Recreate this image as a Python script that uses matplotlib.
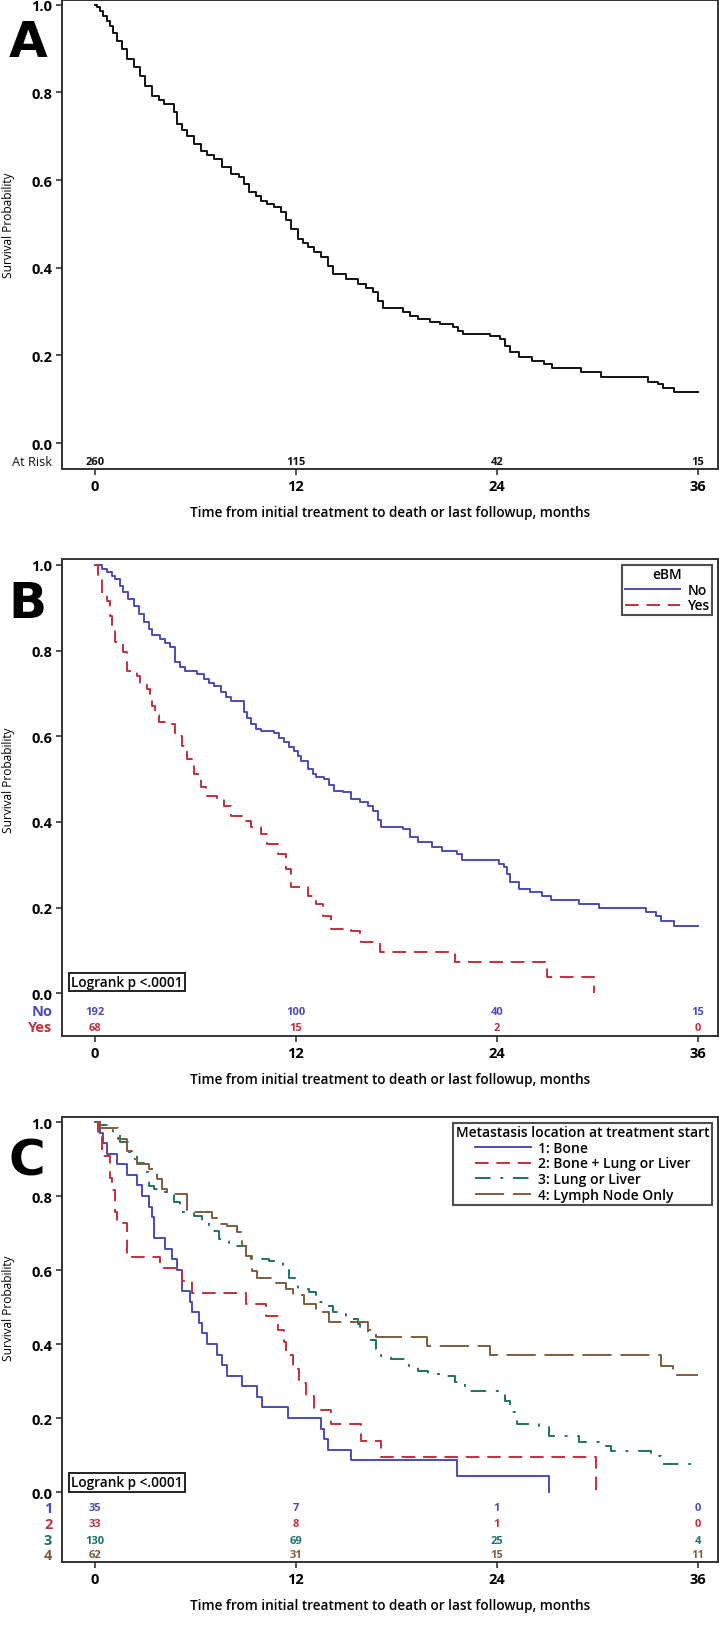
import matplotlib
matplotlib.use("Agg")
import matplotlib.pyplot as plt
import matplotlib.transforms as mtransforms

plt.rcParams['font.family'] = ['Open Sans', 'DejaVu Sans']

# ---- data ----
month_ticks = [0, 12, 24, 36]
surv_ticks = [0.0, 0.2, 0.4, 0.6, 0.8, 1.0]

# Panel A: all patients
a_time = [0, 0.1, 0.3, 0.5, 0.7, 0.9, 1.1, 1.3, 1.6, 1.9, 2.3, 2.7, 3.0, 3.4, 3.8, 4.1, 4.7,
          4.9, 5.2, 5.5, 5.9, 6.3, 6.7, 7.1, 7.6, 8.1, 8.6, 8.9, 9.2, 9.6, 9.9, 10.3, 10.7,
          11.1, 11.4, 11.7, 12.1, 12.4, 12.7, 13.1, 13.5, 13.9, 14.2, 15.0, 15.7, 16.2,
          16.6, 16.9, 17.2, 18.4, 18.8, 19.3, 20.0, 20.6, 21.4, 21.7, 22.0, 23.6, 24.2,
          24.5, 24.8, 25.3, 26.1, 26.8, 27.3, 29.0, 30.2, 33.0, 33.6, 33.9, 34.6, 36.0]
a_surv = [1.0, 0.996, 0.985, 0.975, 0.963, 0.952, 0.935, 0.918, 0.898, 0.877, 0.857, 0.838,
          0.815, 0.792, 0.783, 0.774, 0.756, 0.728, 0.714, 0.700, 0.683, 0.667, 0.657, 0.648,
          0.631, 0.614, 0.607, 0.590, 0.573, 0.563, 0.553, 0.546, 0.539, 0.527, 0.508, 0.489,
          0.466, 0.457, 0.447, 0.436, 0.425, 0.405, 0.386, 0.375, 0.363, 0.355, 0.345, 0.325,
          0.308, 0.300, 0.290, 0.283, 0.276, 0.272, 0.265, 0.256, 0.249, 0.244, 0.237, 0.222,
          0.208, 0.196, 0.187, 0.180, 0.171, 0.162, 0.150, 0.140, 0.135, 0.125, 0.117, 0.117]
a_risk = [260, 115, 42, 15]

# Panel B: eBM No / Yes
b_no_time = [0, 0.4, 0.7, 1.0, 1.2, 1.5, 1.7, 2.0, 2.3, 2.6, 2.9, 3.2, 3.4, 3.9, 4.2, 4.5,
             4.8, 5.1, 5.4, 6.1, 6.5, 6.8, 7.1, 7.5, 7.8, 8.1, 8.9, 9.1, 9.3, 9.6, 9.9, 10.7,
             11.0, 11.3, 11.6, 11.9, 12.1, 12.3, 12.7, 13.0, 13.2, 13.7, 14.0, 14.3, 14.8,
             15.3, 15.8, 16.3, 16.6, 16.9, 17.1, 18.4, 18.8, 19.3, 20.1, 20.7, 21.6, 21.9,
             24.1, 24.4, 24.6, 24.8, 25.3, 26.0, 26.7, 27.2, 28.9, 30.1, 32.9, 33.5, 33.8,
             34.6, 36.0]
b_no_surv = [1.0, 0.990, 0.984, 0.975, 0.967, 0.952, 0.937, 0.920, 0.904, 0.885, 0.867, 0.850,
             0.836, 0.827, 0.818, 0.808, 0.773, 0.762, 0.752, 0.745, 0.734, 0.725, 0.717, 0.703,
             0.692, 0.682, 0.656, 0.642, 0.628, 0.618, 0.612, 0.607, 0.597, 0.586, 0.576, 0.565,
             0.553, 0.542, 0.523, 0.512, 0.505, 0.500, 0.486, 0.472, 0.470, 0.453, 0.446, 0.438,
             0.425, 0.405, 0.388, 0.383, 0.364, 0.353, 0.341, 0.332, 0.325, 0.311, 0.301, 0.294,
             0.278, 0.259, 0.243, 0.236, 0.227, 0.217, 0.208, 0.200, 0.189, 0.180, 0.168, 0.157,
             0.157]
b_yes_time = [0, 0.2, 0.4, 0.7, 0.9, 1.0, 1.2, 1.7, 1.9, 2.5, 2.7, 3.1, 3.3, 3.4, 3.6, 3.8,
              4.6, 4.8, 5.2, 5.5, 5.9, 6.3, 6.6, 7.3, 7.7, 8.1, 8.9, 9.3, 9.9, 10.3, 10.9,
              11.4, 11.7, 12.7, 13.2, 13.6, 14.1, 15.3, 15.8, 15.9, 17.0, 21.5, 27.0, 29.8]
b_yes_surv = [1.0, 0.970, 0.932, 0.916, 0.880, 0.850, 0.820, 0.797, 0.752, 0.740, 0.722, 0.710,
              0.690, 0.670, 0.650, 0.633, 0.628, 0.600, 0.577, 0.547, 0.512, 0.481, 0.460, 0.453,
              0.437, 0.414, 0.402, 0.388, 0.371, 0.348, 0.325, 0.290, 0.248, 0.227, 0.208, 0.180,
              0.150, 0.145, 0.131, 0.119, 0.096, 0.072, 0.037, 0.0]
b_groups = ['No', 'Yes']
b_risk = [[192, 100, 40, 15], [68, 15, 2, 0]]

# Panel C: metastasis location
c1_time = [0, 0.3, 0.5, 0.7, 1.3, 1.9, 2.5, 2.8, 3.2, 3.4, 3.5, 4.2, 4.6, 4.9, 5.2, 5.7, 5.8,
           6.2, 6.4, 6.7, 7.3, 7.6, 7.9, 8.8, 9.7, 10.0, 11.5, 13.5, 13.7, 13.9, 15.3, 21.6,
           27.1]
c1_surv = [1.0, 0.971, 0.943, 0.914, 0.886, 0.857, 0.829, 0.800, 0.771, 0.743, 0.686, 0.657,
           0.629, 0.600, 0.543, 0.514, 0.486, 0.457, 0.429, 0.400, 0.371, 0.343, 0.314, 0.286,
           0.257, 0.229, 0.200, 0.171, 0.143, 0.114, 0.086, 0.043, 0.0]
c2_time = [0, 0.2, 0.4, 0.9, 1.0, 1.2, 1.3, 1.9, 3.9, 5.2, 5.8, 9.0, 10.2, 10.9, 11.3, 11.4,
           11.8, 12.2, 12.6, 13.1, 14.1, 15.9, 17.1, 29.9]
c2_surv = [1.0, 0.970, 0.909, 0.848, 0.818, 0.758, 0.727, 0.636, 0.606, 0.570, 0.539, 0.508,
           0.476, 0.437, 0.405, 0.370, 0.333, 0.296, 0.259, 0.222, 0.185, 0.139, 0.094, 0.0]
c3_time = [0, 0.3, 0.8, 1.1, 1.5, 2.0, 2.5, 2.9, 3.2, 3.5, 4.1, 4.7, 5.1, 5.9, 6.4, 6.8, 7.4,
           8.0, 9.0, 9.3, 10.4, 11.2, 11.6, 12.1, 12.8, 13.2, 13.7, 14.2, 15.0, 15.7, 15.8,
           16.3, 16.8, 17.1, 17.7, 18.75, 19.3, 19.9, 20.7, 21.5, 22.1, 24.1, 24.5, 24.8,
           25.2, 26.5, 27.1, 28.9, 30.1, 30.8, 33.2, 33.8, 35.6]
c3_surv = [1.0, 0.992, 0.985, 0.970, 0.946, 0.920, 0.890, 0.865, 0.827, 0.819, 0.810, 0.784,
           0.757, 0.746, 0.730, 0.705, 0.684, 0.665, 0.643, 0.630, 0.625, 0.608, 0.580, 0.549,
           0.540, 0.514, 0.503, 0.486, 0.468, 0.454, 0.440, 0.410, 0.386, 0.368, 0.359, 0.341,
           0.327, 0.319, 0.314, 0.297, 0.273, 0.270, 0.246, 0.216, 0.184, 0.178, 0.151, 0.135,
           0.124, 0.111, 0.097, 0.076, 0.076]
c4_time = [0, 0.3, 1.4, 1.9, 2.2, 2.5, 3.2, 3.7, 4.0, 4.3, 5.5, 7.0, 7.3, 7.9, 8.5, 8.75, 9.0,
           9.4, 9.7, 10.8, 11.4, 11.8, 12.5, 13.2, 14.0, 16.3, 16.8, 19.8, 23.6, 33.8, 34.5,
           36.0]
c4_surv = [1.0, 0.984, 0.954, 0.922, 0.900, 0.886, 0.873, 0.846, 0.819, 0.805, 0.758, 0.742,
           0.726, 0.718, 0.702, 0.665, 0.637, 0.597, 0.580, 0.565, 0.549, 0.532, 0.508, 0.486,
           0.460, 0.437, 0.419, 0.395, 0.371, 0.342, 0.316, 0.316]
c_groups = ['1: Bone', '2: Bone + Lung or Liver', '3: Lung or Liver', '4: Lymph Node Only']
c_row_labels = ['1', '2', '3', '4']
c_risk = [[35, 7, 1, 0], [33, 8, 1, 0], [130, 69, 25, 4], [62, 31, 15, 11]]

BLUE = '#4b4cb8'
RED = '#c1303e'
GREEN = '#1d7466'
BROWN = '#7d5d3d'
LW = 1.4
XLIM = (-1.97, 37.2)
XLABEL = 'Time from initial treatment to death or last followup, months'

fig = plt.figure(figsize=(7.19, 16.49), dpi=100)


def setup_axes(rect, ylim):
    ax = fig.add_axes(rect)
    ax.set_xlim(*XLIM)
    ax.set_ylim(*ylim)
    ax.set_xticks(month_ticks)
    ax.set_xticklabels([str(m) for m in month_ticks], fontsize=10.5, fontweight='bold')
    ax.set_yticks(surv_ticks)
    ax.set_yticklabels(['%.1f' % v for v in surv_ticks], fontsize=10.5, fontweight='bold')
    ax.tick_params(axis='both', length=4, width=1.2, color='#333333', pad=3)
    for sp in ax.spines.values():
        sp.set_linewidth(1.4)
        sp.set_color('#333333')
    ax.set_xlabel(XLABEL, fontsize=9.8, fontweight='semibold', labelpad=9)
    ax.set_ylabel('Survival Probability', fontsize=8.6)
    tr = mtransforms.blended_transform_factory(ax.transAxes, ax.transData)
    ax.yaxis.set_label_coords(-0.071, 0.5, transform=tr)
    return ax


def risk_rows(ax, rows, labels, colors, ys):
    for row, lab, col, y in zip(rows, labels, colors, ys):
        for m, n in zip(month_ticks, row):
            ax.text(m, y, str(n), color=col, fontsize=8, fontweight='bold',
                    ha='center', va='center')
        if lab == 'At Risk':
            ax.text(-2.55, y, lab, color=col, fontsize=9.2, fontweight='medium',
                    ha='right', va='center', clip_on=False)
        else:
            ax.text(-2.55, y, lab, color=col, fontsize=10.5, fontweight='bold',
                    ha='right', va='center', clip_on=False)


def logrank_box(ax, y):
    ax.text(-1.42, y, 'Logrank p <.0001', fontsize=9.8, fontweight='semibold', ha='left',
            va='center', bbox=dict(boxstyle='square,pad=0.18', fc='white', ec='#222222', lw=1.4))


def make_legend(ax, title):
    leg = ax.legend(title=title, loc='upper right',
                    prop={'size': 10, 'weight': 'semibold'},
                    title_fontproperties={'size': 10, 'weight': 'semibold'},
                    frameon=True, fancybox=False, edgecolor='#222222', handlelength=4.0,
                    borderaxespad=0.4, labelspacing=0.12, borderpad=0.2, handletextpad=0.5)
    leg.get_frame().set_linewidth(1.5)
    leg._legend_box.sep = 1
    return leg


# ---- Panel A ----
axA = setup_axes([62 / 719, 0.7150, 656 / 719, 469 / 1649], (-0.059, 1.011))
axA.step(a_time, a_surv, where='post', color='#111111', lw=LW)
risk_rows(axA, [a_risk], ['At Risk'], ['#111111'], [-0.041])

# ---- Panel B ----
axB = setup_axes([62 / 719, 1 - 1037 / 1649, 656 / 719, 477 / 1649], (-0.1, 1.014))
axB.step(b_no_time, b_no_surv, where='post', color=BLUE, lw=LW, label=b_groups[0])
axB.step(b_yes_time, b_yes_surv, where='post', color=RED, lw=LW, dashes=(7, 4),
         label=b_groups[1])
make_legend(axB, 'eBM')
risk_rows(axB, b_risk, b_groups, [BLUE, RED], [-0.042, -0.08])
logrank_box(axB, 0.026)

# ---- Panel C ----
axC = setup_axes([62 / 719, 1 - 1563 / 1649, 656 / 719, 445 / 1649], (-0.189, 1.014))
axC.step(c1_time, c1_surv, where='post', color=BLUE, lw=LW, label=c_groups[0])
axC.step(c2_time, c2_surv, where='post', color=RED, lw=LW, dashes=(7, 4), label=c_groups[1])
axC.step(c3_time, c3_surv, where='post', color=GREEN, lw=LW, dashes=(8, 5, 1.5, 5),
         label=c_groups[2])
axC.step(c4_time, c4_surv, where='post', color=BROWN, lw=LW, dashes=(15, 4.5),
         label=c_groups[3])
make_legend(axC, 'Metastasis location at treatment start')
risk_rows(axC, c_risk, c_row_labels, [BLUE, RED, GREEN, BROWN],
          [-0.043, -0.086, -0.13, -0.17])
logrank_box(axC, 0.027)

# panel letters
for letter, ypx in [('A', 43), ('B', 604), ('C', 1161)]:
    fig.text(0.012, 1 - ypx / 1649, letter, fontsize=36, fontweight='bold', va='center',
             ha='left', family='DejaVu Sans')

fig.savefig('out.png', dpi=100)
